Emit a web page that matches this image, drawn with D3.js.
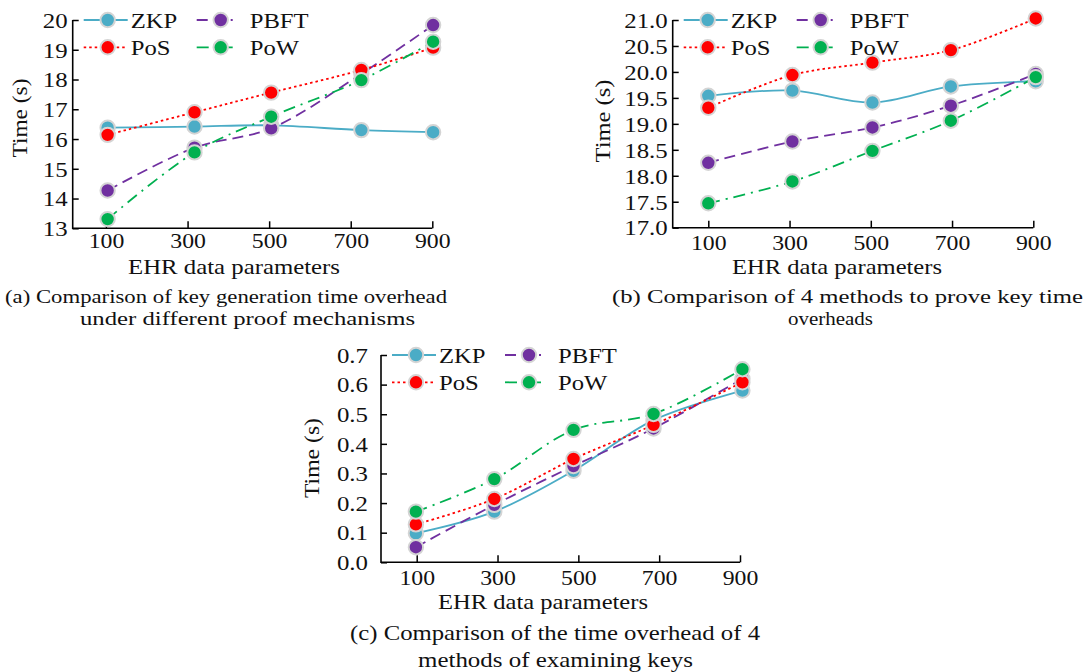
<!DOCTYPE html>
<html><head><meta charset="utf-8">
<script src="https://cdn.jsdelivr.net/npm/d3@7"></script>
<style>
body{margin:0;background:#fff;}
svg text{font-family:"Liberation Serif","Times New Roman",serif;fill:#111;}
</style></head>
<body><svg id="c" width="1090" height="672"></svg>
<script>
// ---------- data ----------
const xTicks = [100, 300, 500, 700, 900];
const seriesNames = ["ZKP", "PBFT", "PoS", "PoW"];

// (a) key generation time
const aX = [104, 317, 505, 726, 902];
const aZKP = [16.38, 16.42, 16.46, 16.30, 16.23];
const aPBFT = [14.27, 15.71, 16.36, 18.19, 19.83];
const aPoS = [16.14, 16.90, 17.56, 18.32, 19.07];
const aPoW = [13.31, 15.55, 16.75, 17.98, 19.27];
const aYTicks = [13, 14, 15, 16, 17, 18, 19, 20];

// (b) prove key time
const bX = [100, 307, 504, 697, 906];
const bZKP = [19.54, 19.64, 19.41, 19.72, 19.82];
const bPBFT = [18.25, 18.66, 18.93, 19.35, 19.96];
const bPoS = [19.31, 19.94, 20.18, 20.42, 21.03];
const bPoW = [17.47, 17.89, 18.48, 19.06, 19.90];
const bYTicks = [17.0, 17.5, 18.0, 18.5, 19.0, 19.5, 20.0, 20.5, 21.0];

// (c) examining keys
const cX = [98, 292, 488, 686, 906];
const cZKP = [0.098, 0.171, 0.309, 0.480, 0.580];
const cPBFT = [0.051, 0.194, 0.325, 0.452, 0.620];
const cPoS = [0.128, 0.214, 0.349, 0.464, 0.608];
const cPoW = [0.171, 0.281, 0.447, 0.501, 0.652];
const cYTicks = [0.0, 0.1, 0.2, 0.3, 0.4, 0.5, 0.6, 0.7];

const xTitle = "EHR data parameters";
const yTitle = "Time (s)";
const captionsA = ["(a) Comparison of key generation time overhead", "under different proof mechanisms"];
const captionsB = ["(b) Comparison of 4 methods to prove key time", "overheads"];
const captionsC = ["(c) Comparison of the time overhead of 4", "methods of examining keys"];

// ---------- styles ----------
const style = {
  ZKP:  {color: "#4bacc6", dash: null},
  PBFT: {color: "#7030a0", dash: "11,6"},
  PoS:  {color: "#ff0000", dash: "2.5,3"},
  PoW:  {color: "#00b050", dash: "12,6,2,6"}
};

const svg = d3.select("#c");

// horizontally widen text (the reference glyphs are wider than Liberation Serif)
function widen(sel, factor) {
  sel.each(function () {
    const w = this.getComputedTextLength();
    d3.select(this).attr("textLength", w * factor).attr("lengthAdjust", "spacingAndGlyphs");
  });
}
function fitWidth(sel, width) {
  sel.attr("textLength", width).attr("lengthAdjust", "spacingAndGlyphs");
}

function panel(cfg) {
  const g = svg.append("g");
  const x = d3.scaleLinear().domain([100, 900]).range([cfg.x100, cfg.x900]);
  const y = d3.scaleLinear().domain([cfg.ymin, cfg.ymax]).range([cfg.yBot, cfg.yTop]);

  // axes
  const xa = g.append("g").attr("transform", `translate(0,${cfg.yBot})`)
    .call(d3.axisBottom(x).tickValues(xTicks).tickSize(-7).tickPadding(0).tickFormat(d3.format("d")));
  xa.select(".domain").remove();
  xa.selectAll(".tick line").attr("stroke", "#000").attr("stroke-width", 1.5);
  const xt = xa.selectAll(".tick text").attr("font-size", 22).attr("dy", null).attr("y", cfg.xLabY).attr("fill", "#111");
  widen(xt, 1.08);
  g.append("line").attr("x1", cfg.left).attr("x2", cfg.x900).attr("y1", cfg.yBot).attr("y2", cfg.yBot)
    .attr("stroke", "#000").attr("stroke-width", 1.6);

  const ya = g.append("g").attr("transform", `translate(${cfg.left},0)`)
    .call(d3.axisLeft(y).tickValues(cfg.yTicks).tickSize(-6).tickPadding(cfg.yPad).tickFormat(d3.format(cfg.fmt)));
  ya.select(".domain").remove();
  ya.selectAll(".tick line").attr("stroke", "#000").attr("stroke-width", 1.5);
  const yt = ya.selectAll(".tick text").attr("font-size", 22).attr("dy", "0.33em").attr("fill", "#111");
  widen(yt, 1.13);
  g.append("line").attr("x1", cfg.left).attr("x2", cfg.left).attr("y1", cfg.yTop).attr("y2", cfg.yBot + 0.8)
    .attr("stroke", "#000").attr("stroke-width", 1.6);

  // series
  const line = d3.line().x(d => x(d[0])).y(d => y(d[1])).curve(d3.curveCatmullRom.alpha(0.5));
  seriesNames.forEach((name, i) => {
    const pts = cfg.xs.map((xv, j) => [xv, cfg.vals[i][j]]);
    const st = style[name];
    g.append("path").attr("d", line(pts)).attr("fill", "none")
      .attr("stroke", st.color).attr("stroke-width", 1.8)
      .attr("stroke-dasharray", st.dash);
  });
  seriesNames.forEach((name, i) => {
    const pts = cfg.xs.map((xv, j) => [xv, cfg.vals[i][j]]);
    g.selectAll(null).data(pts).enter().append("circle")
      .attr("cx", d => x(d[0])).attr("cy", d => y(d[1])).attr("r", 7.2)
      .attr("fill", style[name].color).attr("stroke", "#d4d4d4").attr("stroke-width", 2);
  });

  // legend
  const legPos = [
    {name: "ZKP", col: 0, row: 0}, {name: "PBFT", col: 1, row: 0},
    {name: "PoS", col: 0, row: 1}, {name: "PoW", col: 1, row: 1}
  ];
  const colOff = [{l0: 11, m: 35, l1: 55, t: 58}, {l0: 124, m: 148, l1: 160, t: 177}];
  legPos.forEach(p => {
    const o = colOff[p.col];
    const ly = cfg.yTop + p.row * 27.3;
    const st = style[p.name];
    g.append("line").attr("x1", cfg.left + o.l0).attr("x2", cfg.left + o.l1).attr("y1", ly).attr("y2", ly)
      .attr("stroke", st.color).attr("stroke-width", 1.8).attr("stroke-dasharray", st.dash);
    g.append("circle").attr("cx", cfg.left + o.m).attr("cy", ly).attr("r", 7.2)
      .attr("fill", st.color).attr("stroke", "#d4d4d4").attr("stroke-width", 2);
    const t = g.append("text").attr("x", cfg.left + o.t).attr("y", ly + 7.5).attr("font-size", 22).text(p.name);
    widen(t, 1.12);
  });

  // titles
  const xtT = g.append("text").attr("x", cfg.xtX).attr("y", cfg.xtY + 7).attr("text-anchor", "middle")
    .attr("font-size", 22).text(xTitle);
  fitWidth(xtT, cfg.xtW);
  const ytT = g.append("text").attr("transform", `translate(${cfg.ytX + 7},${cfg.ytY}) rotate(-90)`)
    .attr("text-anchor", "middle").attr("font-size", 22).text(yTitle);
  fitWidth(ytT, cfg.ytW);
  cfg.caps.forEach((c, k) => {
    const t = g.append("text").attr("x", cfg.capX[k]).attr("y", cfg.capY[k] + 6.5).attr("text-anchor", "middle")
      .attr("font-size", cfg.capFs).text(c);
    fitWidth(t, cfg.capW[k]);
  });
}

panel({left: 72.7, x100: 106, x900: 432.3, yTop: 20, yBot: 228.3, ymin: 13, ymax: 20,
  yTicks: aYTicks, fmt: "d", yPad: 5, xLabY: 20, xs: aX, vals: [aZKP, aPBFT, aPoS, aPoW],
  xtX: 234, xtY: 267, xtW: 212, ytX: 20, ytY: 118, ytW: 79,
  caps: captionsA, capFs: 19.5, capX: [226, 247.5], capY: [296, 318], capW: [442, 335]});
panel({left: 672.7, x100: 708.3, x900: 1033.3, yTop: 20, yBot: 227.7, ymin: 17, ymax: 21,
  yTicks: bYTicks, fmt: ".1f", yPad: 5, xLabY: 22, xs: bX, vals: [bZKP, bPBFT, bPoS, bPoW],
  xtX: 837, xtY: 267, xtW: 210, ytX: 603, ytY: 121, ytW: 83,
  caps: captionsB, capFs: 19.5, capX: [847.5, 830.5], capY: [296, 318], capW: [471, 85]});
panel({left: 381, x100: 416.7, x900: 740, yTop: 355, yBot: 562.3, ymin: 0, ymax: 0.7,
  yTicks: cYTicks, fmt: ".1f", yPad: 13, xLabY: 23, xs: cX, vals: [cZKP, cPBFT, cPoS, cPoW],
  xtX: 543, xtY: 601.7, xtW: 210, ytX: 311.7, ytY: 458, ytW: 80,
  caps: captionsC, capFs: 21, capX: [555, 555.5], capY: [633, 660], capW: [410, 275]});
</script></body></html>
